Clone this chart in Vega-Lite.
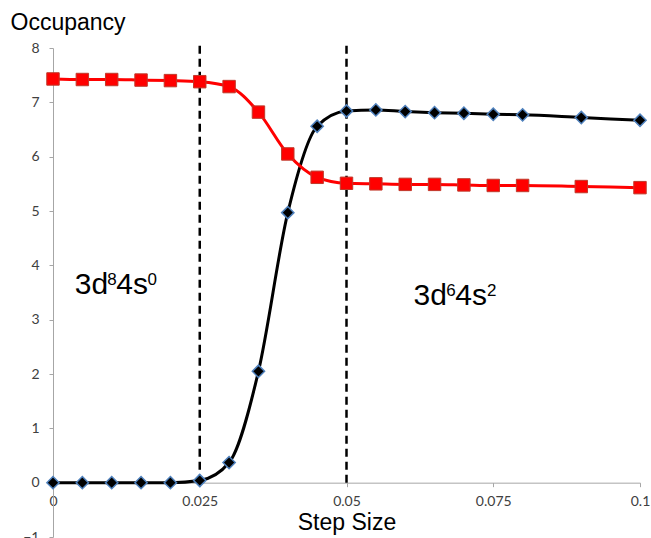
{
  "$schema": "https://vega.github.io/schema/vega-lite/v6.json",
  "width": 587,
  "height": 489,
  "autosize": {"type": "none"},
  "padding": {"left": 53, "top": 48, "right": 11, "bottom": 1},
  "background": "white",
  "config": {"view": {"stroke": null}, "font": "Liberation Sans"},
  "datasets": {
    "occupancy": [
      {"series": "Series1", "step": 0, "occ": 0},
      {"series": "Series1", "step": 0.005, "occ": 0},
      {"series": "Series1", "step": 0.01, "occ": 0},
      {"series": "Series1", "step": 0.015, "occ": 0},
      {"series": "Series1", "step": 0.02, "occ": 0},
      {"series": "Series1", "step": 0.025, "occ": 0.04},
      {"series": "Series1", "step": 0.03, "occ": 0.37},
      {"series": "Series1", "step": 0.035, "occ": 2.05},
      {"series": "Series1", "step": 0.04, "occ": 4.97},
      {"series": "Series1", "step": 0.045, "occ": 6.56},
      {"series": "Series1", "step": 0.05, "occ": 6.84},
      {"series": "Series1", "step": 0.055, "occ": 6.86},
      {"series": "Series1", "step": 0.06, "occ": 6.83},
      {"series": "Series1", "step": 0.065, "occ": 6.81},
      {"series": "Series1", "step": 0.07, "occ": 6.8},
      {"series": "Series1", "step": 0.075, "occ": 6.78},
      {"series": "Series1", "step": 0.08, "occ": 6.77},
      {"series": "Series1", "step": 0.09, "occ": 6.72},
      {"series": "Series1", "step": 0.1, "occ": 6.67},
      {"series": "Series2", "step": 0, "occ": 7.43},
      {"series": "Series2", "step": 0.005, "occ": 7.42},
      {"series": "Series2", "step": 0.01, "occ": 7.42},
      {"series": "Series2", "step": 0.015, "occ": 7.41},
      {"series": "Series2", "step": 0.02, "occ": 7.4},
      {"series": "Series2", "step": 0.025, "occ": 7.38},
      {"series": "Series2", "step": 0.03, "occ": 7.29},
      {"series": "Series2", "step": 0.035, "occ": 6.82},
      {"series": "Series2", "step": 0.04, "occ": 6.05},
      {"series": "Series2", "step": 0.045, "occ": 5.62},
      {"series": "Series2", "step": 0.05, "occ": 5.51},
      {"series": "Series2", "step": 0.055, "occ": 5.5},
      {"series": "Series2", "step": 0.06, "occ": 5.49},
      {"series": "Series2", "step": 0.065, "occ": 5.49},
      {"series": "Series2", "step": 0.07, "occ": 5.48},
      {"series": "Series2", "step": 0.075, "occ": 5.47},
      {"series": "Series2", "step": 0.08, "occ": 5.47},
      {"series": "Series2", "step": 0.09, "occ": 5.45},
      {"series": "Series2", "step": 0.1, "occ": 5.43}
    ],
    "boundaries": [
      {"step": 0.025, "occ": 0, "occ_top": 8.11},
      {"step": 0.05, "occ": 0, "occ_top": 8.11}
    ],
    "configurations": [
      {"step": 0.0037, "occ": 3.473, "part": "3d", "level": "base"},
      {"step": 0.00925, "occ": 3.638, "part": "8", "level": "sup"},
      {"step": 0.01079, "occ": 3.473, "part": "4s", "level": "base"},
      {"step": 0.01608, "occ": 3.638, "part": "0", "level": "sup"},
      {"step": 0.06143, "occ": 3.27, "part": "3d", "level": "base"},
      {"step": 0.06698, "occ": 3.436, "part": "6", "level": "sup"},
      {"step": 0.06852, "occ": 3.27, "part": "4s", "level": "base"},
      {"step": 0.07392, "occ": 3.436, "part": "2", "level": "sup"}
    ]
  },
  "encoding": {
    "x": {
      "field": "step",
      "type": "quantitative",
      "scale": {"domain": [0, 0.1], "nice": false, "zero": false},
      "axis": {
        "values": [0, 0.025, 0.05, 0.075, 0.1],
        "labelExpr": "datum.value + ''",
        "offset": -54.34,
        "grid": false,
        "domainColor": "#a6a6a6",
        "tickColor": "#a6a6a6",
        "tickSize": 4,
        "labelFont": "Lato",
        "labelFontSize": 14,
        "labelColor": "#404040",
        "labelPadding": 8,
        "labelFlush": false,
        "labelOverlap": false,
        "title": "Step Size",
        "titleFont": "Liberation Sans",
        "titleFontSize": 23,
        "titleFontWeight": "normal",
        "titleColor": "black",
        "titleY": 47,
        "titleBaseline": "alphabetic"
      }
    },
    "y": {
      "field": "occ",
      "type": "quantitative",
      "scale": {"domain": [-1, 8], "nice": false, "zero": false},
      "axis": {
        "values": [-1, 0, 1, 2, 3, 4, 5, 6, 7, 8],
        "grid": false,
        "domainColor": "#a6a6a6",
        "tickColor": "#a6a6a6",
        "tickSize": 4,
        "labelFont": "Lato",
        "labelFontSize": 14,
        "labelColor": "#404040",
        "labelPadding": 10,
        "title": "Occupancy",
        "titleFont": "Liberation Sans",
        "titleFontSize": 23,
        "titleFontWeight": "normal",
        "titleColor": "black",
        "titleAngle": 0,
        "titleAlign": "left",
        "titleBaseline": "alphabetic",
        "titleX": -43,
        "titleY": -19
      }
    }
  },
  "layer": [
    {
      "data": {"name": "boundaries"},
      "mark": {"type": "rule", "color": "black", "strokeWidth": 2.5, "strokeDash": [8, 5]},
      "encoding": {"y2": {"field": "occ_top"}}
    },
    {
      "data": {"name": "occupancy"},
      "transform": [{"filter": "datum.series === 'Series1'"}],
      "mark": {"type": "line", "color": "black", "strokeWidth": 3, "interpolate": "monotone"},
      "encoding": {}
    },
    {
      "data": {"name": "occupancy"},
      "transform": [{"filter": "datum.series === 'Series1'"}],
      "mark": {"type": "point", "shape": "diamond", "filled": true, "fill": "black", "stroke": "#4f81bd", "strokeWidth": 1.5, "size": 150, "opacity": 1},
      "encoding": {}
    },
    {
      "data": {"name": "occupancy"},
      "transform": [{"filter": "datum.series === 'Series2'"}],
      "mark": {"type": "line", "color": "#ff0000", "strokeWidth": 3, "interpolate": "monotone"},
      "encoding": {}
    },
    {
      "data": {"name": "occupancy"},
      "transform": [{"filter": "datum.series === 'Series2'"}],
      "mark": {"type": "point", "shape": "square", "filled": true, "fill": "#ff0000", "stroke": "#c0392b", "strokeWidth": 1, "size": 155, "opacity": 1},
      "encoding": {}
    },
    {
      "data": {"name": "configurations"},
      "transform": [{"filter": "datum.level === 'base'"}],
      "mark": {"type": "text", "align": "left", "baseline": "alphabetic", "font": "Liberation Sans", "fontSize": 30, "color": "black"},
      "encoding": {"text": {"field": "part"}}
    },
    {
      "data": {"name": "configurations"},
      "transform": [{"filter": "datum.level === 'sup'"}],
      "mark": {"type": "text", "align": "left", "baseline": "alphabetic", "font": "Liberation Sans", "fontSize": 17, "color": "black"},
      "encoding": {"text": {"field": "part"}}
    }
  ]
}
